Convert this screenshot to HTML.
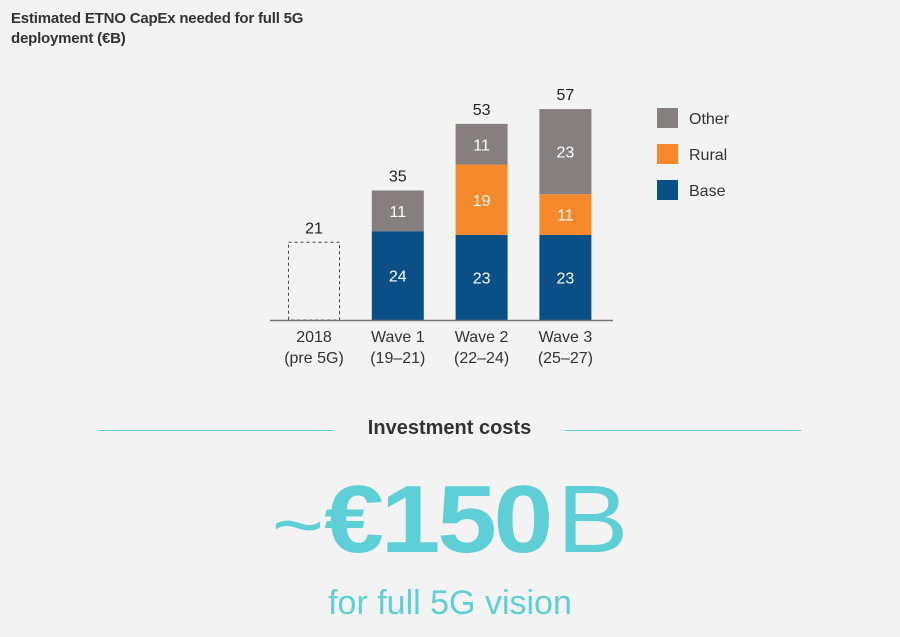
<!DOCTYPE html>
<html><head><meta charset="utf-8"><style>
body{margin:0;width:900px;height:637px;background:#f3f3f3;font-family:"Liberation Sans",sans-serif;overflow:hidden;position:relative}
.t{position:absolute}
</style></head><body>
<div class="t" style="left:11px;top:9px;font-size:15px;font-weight:bold;color:#333;line-height:20px;letter-spacing:-0.2px">Estimated ETNO CapEx needed for full 5G<br>deployment (€B)</div>
<svg id="chart" width="900" height="400" style="position:absolute;left:0;top:0"></svg>
<div class="t" style="left:98px;top:430px;width:236px;height:1px;background:#5ecfd6"></div>
<div class="t" style="left:565px;top:430px;width:236px;height:1px;background:#5ecfd6"></div>
<div class="t" style="left:334px;width:231px;top:417px;text-align:center;font-size:20px;font-weight:bold;color:#333">Investment costs</div>
<div class="t" style="left:0;width:900px;top:470px;text-align:center;color:#5ecfd6;font-size:96px;line-height:100px;white-space:nowrap"><span style="display:inline-block;transform:scaleX(1.12)"><span style="font-weight:normal;font-size:80px">~</span><span style="font-weight:900;letter-spacing:-3px">€150</span><span style="font-weight:normal;padding-left:6px">B</span></span></div>
<div class="t" style="left:0;width:900px;top:584px;text-align:center;color:#5ecfd6;font-size:34px">for full 5G vision</div>
<script>
const categories=["2018","Wave 1","Wave 2","Wave 3"];
const subLabels=["(pre 5G)","(19–21)","(22–24)","(25–27)"];
const baseVals=[21,24,23,23];
const ruralVals=[0,0,19,11];
const otherVals=[0,11,11,23];
const totals=[21,35,53,57];
const seriesNames=["Other","Rural","Base"];
const colors={Base:"#0b4f87",Rural:"#f5892b",Other:"#85807f"};
const svg=document.getElementById('chart');
const NS="http://www.w3.org/2000/svg";
const baseY=320,k=3.7,x0=288,step=83.8,bw=52;
const y=v=>baseY-v*k;
const xc=i=>x0+i*step;
function mk(tag,attrs){const e=document.createElementNS(NS,tag);for(const a in attrs)e.setAttribute(a,attrs[a]);svg.appendChild(e);return e;}
function txt(x,yy,s,fill,size){const t=mk('text',{x:x,y:yy,'text-anchor':'middle','font-size':size,fill:fill,'font-family':'Liberation Sans, sans-serif'});t.textContent=s;return t;}
categories.forEach((c,i)=>{
  const x=xc(i);
  if(i===0){
    const r=mk('rect',{x:x+0.5,y:y(baseVals[i]),width:bw-1,height:baseVals[i]*k,fill:'none',stroke:'#444','stroke-dasharray':'3,3','stroke-width':1});
    
    
  } else {
    let cum=0;
    [["Base",baseVals],["Rural",ruralVals],["Other",otherVals]].forEach(([n,arr])=>{
      const v=arr[i]; if(!v) return;
      const r=mk('rect',{x:x,y:y(cum+v),width:bw,height:v*k,fill:colors[n]});
      
      
      const t=txt(x+bw/2,y(cum+v/2)+6,String(v),'#fff',16);
      
      
      cum+=v;
    });
  }
  const tt=txt(x+bw/2,y(totals[i])-9,String(totals[i]),'#222',16);
  
  
  const l1=txt(x+bw/2,342,c,'#333',16);
  
  
  const l2=txt(x+bw/2,363,subLabels[i],'#333',16);
  
  
});
const ax=mk('line',{x1:270,x2:613,y1:baseY+0.5,y2:baseY+0.5,stroke:'#777','stroke-width':1.5});


seriesNames.forEach((n,j)=>{
  const r=mk('rect',{x:657,y:108+j*36,width:21,height:20,fill:colors[n]});
  
  
  const t=mk('text',{x:689,y:124+j*36,'font-size':16,fill:'#333','font-family':'Liberation Sans, sans-serif'});
  t.textContent=n;
  
  
});
</script>
</body></html>
